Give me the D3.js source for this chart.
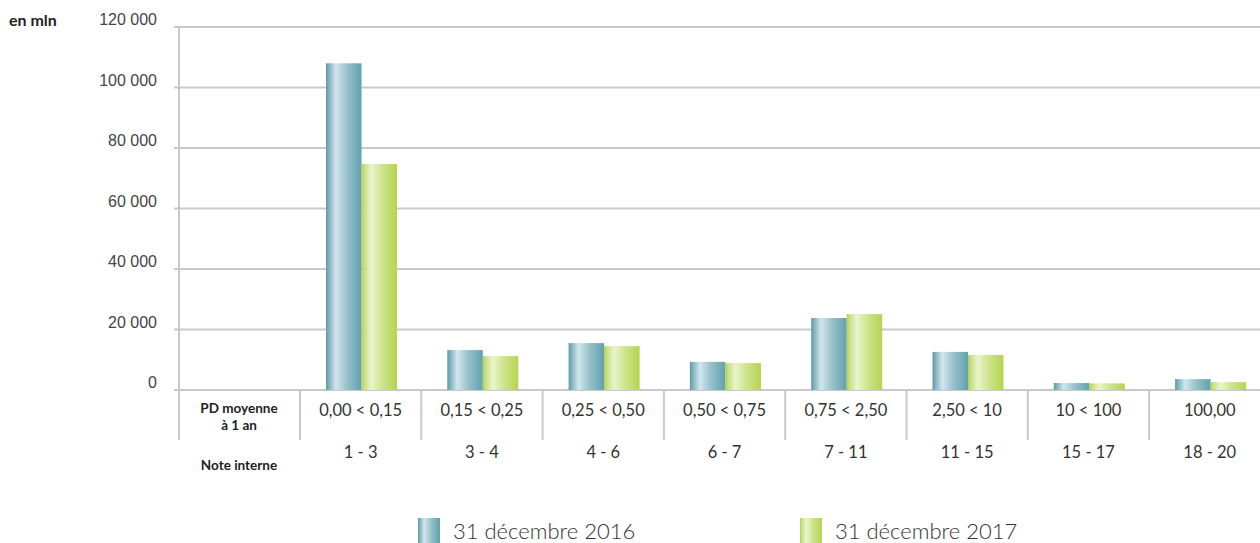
<!DOCTYPE html>
<html>
<head>
<meta charset="utf-8">
<script src="https://cdn.jsdelivr.net/npm/d3@7.9.0/dist/d3.min.js"></script>
<style>
  body { margin: 0; background: #fff; }
  svg { display: block; font-family: Lato, "Open Sans", sans-serif; }
</style>
</head>
<body>
<svg id="chart" width="1260" height="543"></svg>
<script>
// data
const pdLabels = ['0,00 < 0,15', '0,15 < 0,25', '0,25 < 0,50', '0,50 < 0,75', '0,75 < 2,50', '2,50 < 10', '10 < 100', '100,00'];
const notes = ['1 - 3', '3 - 4', '4 - 6', '6 - 7', '7 - 11', '11 - 15', '15 - 17', '18 - 20'];
const series = ['31 décembre 2016', '31 décembre 2017'];
const values2016 = [108000, 13200, 15500, 9300, 23800, 12600, 2300, 3600];
const values2017 = [74700, 11200, 14500, 8900, 25100, 11600, 2200, 2600];
const yTicks = [0, 20000, 40000, 60000, 80000, 100000, 120000];

const svg = d3.select('#chart');

// gradients for the cylinder look
const defs = svg.append('defs');
const grads = [
  { id: 'g16', stops: [['0%', '#5b9aa8'], ['8%', '#7fb1bd'], ['28%', '#d2e6ec'], ['60%', '#95c0ca'], ['100%', '#62a1ae']] },
  { id: 'g17', stops: [['0%', '#b1d04a'], ['8%', '#c8df86'], ['28%', '#eaf4cc'], ['60%', '#cde38a'], ['100%', '#b5d44f']] }
];
grads.forEach(g => {
  const lg = defs.append('linearGradient').attr('id', g.id).attr('x1', '0%').attr('x2', '100%').attr('y1', '0%').attr('y2', '0%');
  g.stops.forEach(s => lg.append('stop').attr('offset', s[0]).attr('stop-color', s[1]));
});
const fills = ['url(#g16)', 'url(#g17)'];

const axisX = 179;
const y = d3.scaleLinear().domain([0, 120000]).range([390, 27]);
const x = d3.scaleBand().domain(pdLabels).range([300, 300 + 8 * 121.3]);
const x1 = d3.scaleBand().domain(series).range([26, 97]);

const grid = '#c9c9c9';

// gridlines
svg.append('g').selectAll('line')
  .data(yTicks)
  .enter().append('line')
  .attr('x1', axisX - 5).attr('x2', 1260)
  .attr('y1', d => y(d)).attr('y2', d => y(d))
  .attr('stroke', grid).attr('stroke-width', 2);

// y axis
const yAxis = d3.axisLeft(y).tickValues(yTicks).tickSize(0).tickPadding(22)
  .tickFormat(d => d3.format(',')(d).replace(/,/g, ' '));
const ya = svg.append('g').attr('transform', `translate(${axisX},0)`).call(yAxis);
ya.select('.domain').remove();
ya.selectAll('text').attr('font-size', 16).attr('fill', '#444').attr('dy', '-0.15em');

svg.append('line')
  .attr('x1', axisX).attr('x2', axisX).attr('y1', 27).attr('y2', 440)
  .attr('stroke', grid).attr('stroke-width', 2);

svg.append('text').attr('x', 9).attr('y', 26)
  .attr('font-size', 16).attr('font-weight', 'bold').attr('fill', '#222')
  .text('en mln');

// bars
const rows = pdLabels.map((c, i) => ({ cat: c, vals: [values2016[i], values2017[i]] }));
const groups = svg.append('g').selectAll('g')
  .data(rows)
  .enter().append('g')
  .attr('transform', d => `translate(${x(d.cat)},0)`);
groups.selectAll('rect')
  .data(d => d.vals.map((v, j) => ({ s: series[j], v, j })))
  .enter().append('rect')
  .attr('x', d => x1(d.s))
  .attr('width', x1.bandwidth())
  .attr('y', d => y(d.v))
  .attr('height', d => y(0) - y(d.v))
  .attr('fill', d => fills[d.j]);

// table separators below axis
svg.append('g').selectAll('line')
  .data(pdLabels)
  .enter().append('line')
  .attr('x1', d => x(d)).attr('x2', d => x(d))
  .attr('y1', 390).attr('y2', 440)
  .attr('stroke', grid).attr('stroke-width', 2);

// row labels
svg.append('g').selectAll('text')
  .data(pdLabels)
  .enter().append('text')
  .attr('x', d => x(d) + x.bandwidth() / 2)
  .attr('y', 416)
  .attr('text-anchor', 'middle').attr('font-size', 16.5).attr('fill', '#333')
  .text(d => d);

svg.append('g').selectAll('text')
  .data(notes)
  .enter().append('text')
  .attr('x', (d, i) => x(pdLabels[i]) + x.bandwidth() / 2)
  .attr('y', 458)
  .attr('text-anchor', 'middle').attr('font-size', 16.5).attr('fill', '#333')
  .text(d => d);

const lab = svg.append('g').attr('font-size', 13.5).attr('font-weight', 'bold')
  .attr('fill', '#222').attr('text-anchor', 'middle');
lab.append('text').attr('x', 239).attr('y', 413).text('PD moyenne');
lab.append('text').attr('x', 239).attr('y', 430).text('à 1 an');
lab.append('text').attr('x', 239).attr('y', 470).text('Note interne');

// legend
const legendX = [418, 800];
const leg = svg.append('g').selectAll('g')
  .data(series)
  .enter().append('g')
  .attr('transform', (d, i) => `translate(${legendX[i]},518)`);
leg.append('rect').attr('width', 22).attr('height', 25).attr('fill', (d, i) => fills[i]);
leg.append('text').attr('x', 35).attr('y', 21)
  .attr('font-size', 22).attr('fill', '#333').attr('font-weight', 300)
  .text(d => d);
</script>
</body>
</html>
